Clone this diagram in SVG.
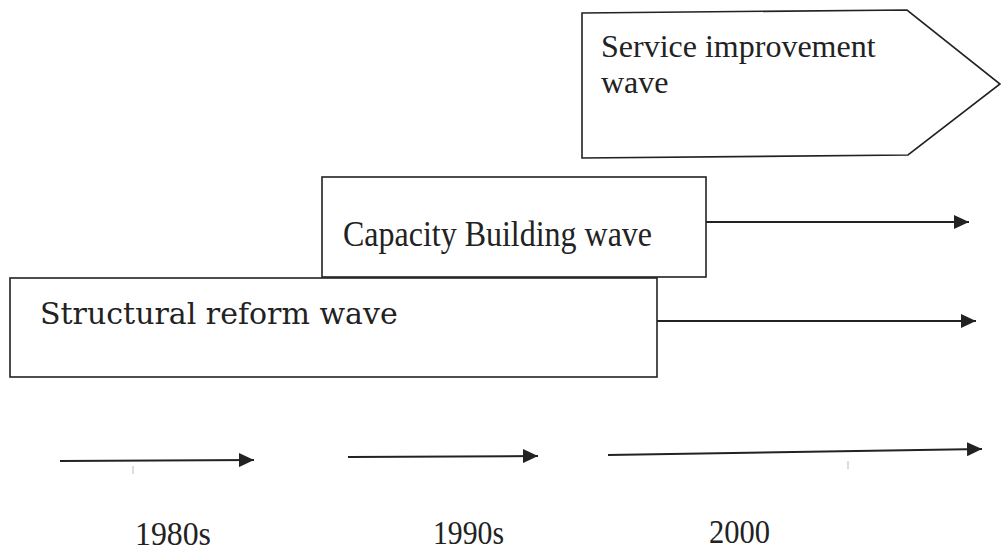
<svg xmlns="http://www.w3.org/2000/svg" width="1002" height="553" viewBox="0 0 1002 553">
<style>
.box{fill:#fff;stroke:#222;stroke-width:1.6}
.ln{stroke:#222;stroke-width:2;fill:none}
.t{font-family:"Liberation Serif","Times New Roman",serif;fill:#222}
.t2{font-family:"DejaVu Serif",serif;fill:#222}
.tick{stroke:#bbb;stroke-width:1}
</style>
<defs>
<marker id="ah" viewBox="0 0 10 10" refX="10" refY="5" markerWidth="15" markerHeight="14" markerUnits="userSpaceOnUse" orient="auto" preserveAspectRatio="none">
<path d="M0,0 L10,5 L0,10 z" fill="#222"/>
</marker>
</defs>
<rect width="1002" height="553" fill="#fff"/>
<g id="service">
<polygon class="box" points="582,13 907,10 1000,84 908,155 582,158"/>
<text class="t" x="601" y="57" font-size="32">Service improvement</text>
<text class="t" x="601" y="93" font-size="32">wave</text>
</g>
<g id="capacity">
<rect class="box" x="322" y="177" width="384" height="100"/>
<text class="t" x="343" y="246" font-size="35" textLength="309" lengthAdjust="spacingAndGlyphs">Capacity Building wave</text>
</g>
<g id="structural">
<rect class="box" x="10" y="278" width="647" height="99"/>
<text class="t2" x="40" y="324" font-size="30">Structural reform wave</text>
</g>
<g id="connectors">
<line class="ln" x1="706" y1="222" x2="969" y2="222" marker-end="url(#ah)"/>
<line class="ln" x1="657" y1="321" x2="976" y2="321" marker-end="url(#ah)"/>
<line class="ln" x1="60" y1="461" x2="254" y2="460" marker-end="url(#ah)"/>
<line class="ln" x1="348" y1="457" x2="538" y2="456" marker-end="url(#ah)"/>
<line class="ln" x1="608" y1="455" x2="982" y2="449" marker-end="url(#ah)"/>
</g>
<g id="ticks">
<line class="tick" x1="133" y1="466" x2="133" y2="474"/>
<line class="tick" x1="848" y1="461" x2="848" y2="469"/>
</g>
<g id="labels">
<text class="t" x="135" y="545" font-size="34" textLength="76" lengthAdjust="spacingAndGlyphs">1980s</text>
<text class="t" x="433" y="544" font-size="34" textLength="71" lengthAdjust="spacingAndGlyphs">1990s</text>
<text class="t" x="709" y="543" font-size="34" textLength="61" lengthAdjust="spacingAndGlyphs">2000</text>
</g>
</svg>
